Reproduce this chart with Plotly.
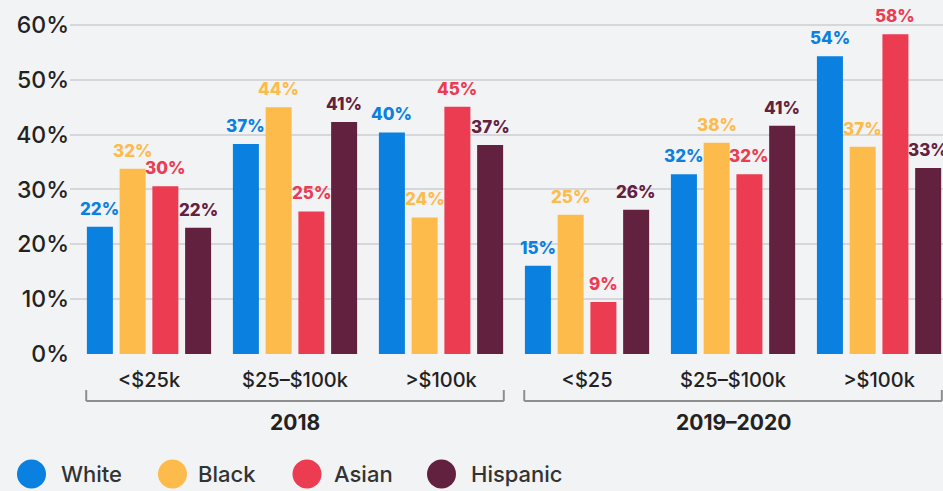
import plotly.graph_objects as go

# ---- data ----
income_labels = ["<$25k", "$25–$100k", ">$100k", "<$25", "$25–$100k", ">$100k"]
period_labels = ["2018", "2019–2020"]
period_centers = [1, 4]
series_names = ["White", "Black", "Asian", "Hispanic"]
white = [23.2, 38.3, 40.4, 16.1, 32.8, 54.3]
black = [33.8, 45.0, 24.9, 25.4, 38.5, 37.8]
asian = [30.6, 26.0, 45.1, 9.5, 32.8, 58.3]
hispanic = [23.0, 42.3, 38.1, 26.3, 41.6, 33.9]
white_labels = ["22%", "37%", "40%", "15%", "32%", "54%"]
black_labels = ["32%", "44%", "24%", "25%", "38%", "37%"]
asian_labels = ["30%", "25%", "45%", "9%", "32%", "58%"]
hispanic_labels = ["22%", "41%", "37%", "26%", "41%", "33%"]
y_tick_vals = [0, 10, 20, 30, 40, 50, 60]
y_tick_text = ["0%", "10%", "20%", "30%", "40%", "50%", "60%"]

# ---- style ----
colors = ["#0a80e0", "#fdbb4b", "#ec3c52", "#62213f"]
BG = "#f2f3f5"
FONT = "Inter"
W, H = 943, 491
ML, MR, MT, MB = 70, 0, 14, 137
PW = W - ML - MR
PH = H - MT - MB
BARGAP = 0.103
BARGROUPGAP = 0.206

values = [white, black, asian, hispanic]
labels = [white_labels, black_labels, asian_labels, hispanic_labels]
xs = list(range(len(income_labels)))
n_series = len(series_names)
slot = (1 - BARGAP) / n_series

fig = go.Figure()
annotations = []
for k, (name, vals, labs, col) in enumerate(zip(series_names, values, labels, colors)):
    fig.add_trace(go.Bar(
        x=xs, y=vals, name=name,
        marker=dict(color=col, line=dict(width=0)),
        showlegend=False, hoverinfo="skip",
    ))
    off = (k - (n_series - 1) / 2) * slot
    for x, v, t in zip(xs, vals, labs):
        annotations.append(dict(x=x + off, y=v, xref="x", yref="y", text=t,
                                showarrow=False, xanchor="center", yanchor="bottom",
                                yshift=6,
                                font=dict(family=FONT, size=17, color=col, weight=800)))

def py(px):
    """pixel y (from top of figure) -> paper y"""
    return (H - MB - px) / PH

def pxp(px):
    return (px - ML) / PW

shapes = []
# brackets under period groups
for c, lab in zip(period_centers, period_labels):
    x0, x1 = c - 1.43, c + 1.43
    for (a, b, c0, c1) in [(x0, x1, -47, -47), (x0, x0, -47, -36), (x1, x1, -47, -36)]:
        shapes.append(dict(type="line", xref="x", yref="paper", ysizemode="pixel",
                           yanchor=0, x0=a, x1=b, y0=c0, y1=c1,
                           line=dict(color="#8e8e8e", width=2)))
    annotations.append(dict(x=c, xref="x", y=0, yref="paper", yshift=-68,
                            text=lab, showarrow=False, yanchor="middle",
                            font=dict(family=FONT, size=21, color="#222222", weight=700)))

# custom legend
legend_circle_x = [31.5, 172.5, 307, 441.5]
legend_text_x = [59, 196, 332, 469]
legend_y = 474
for name, col, cx, tx in zip(series_names, colors, legend_circle_x, legend_text_x):
    shapes.append(dict(type="circle", xref="paper", yref="paper",
                       xsizemode="pixel", ysizemode="pixel",
                       xanchor=pxp(cx), yanchor=py(legend_y),
                       x0=-14.5, x1=14.5, y0=-14.5, y1=14.5,
                       fillcolor=col, line=dict(width=0)))
    annotations.append(dict(x=pxp(tx), xref="paper", y=py(legend_y), yref="paper",
                            xanchor="left", yanchor="middle", text=name, showarrow=False,
                            font=dict(family=FONT, size=22, color="#333333", weight=500)))

fig.update_layout(
    width=W, height=H,
    margin=dict(l=ML, r=MR, t=MT, b=MB, pad=0),
    paper_bgcolor=BG, plot_bgcolor=BG,
    barmode="group", bargap=BARGAP, bargroupgap=BARGROUPGAP,
    shapes=shapes, annotations=annotations,
    hovermode=False,
    xaxis=dict(range=[-0.541, 5.438], tickvals=xs, ticktext=income_labels,
               showgrid=False, zeroline=False, showline=False, ticks="",
               ticklabelstandoff=12,
               tickfont=dict(family=FONT, size=20, color="#222222", weight=500),
               fixedrange=True),
    yaxis=dict(range=[0, 62], tickvals=y_tick_vals, ticktext=y_tick_text,
               showgrid=True, gridcolor="#d6d7da", gridwidth=2,
               zeroline=False, showline=False, ticks="",
               tickfont=dict(family=FONT, size=23, color="#222222", weight=500),
               fixedrange=True),
)

fig.write_html(
    "out.html",
    config={"displayModeBar": False},
    post_script="document.body.style.margin='0';document.body.style.background='%s';" % BG,
)
